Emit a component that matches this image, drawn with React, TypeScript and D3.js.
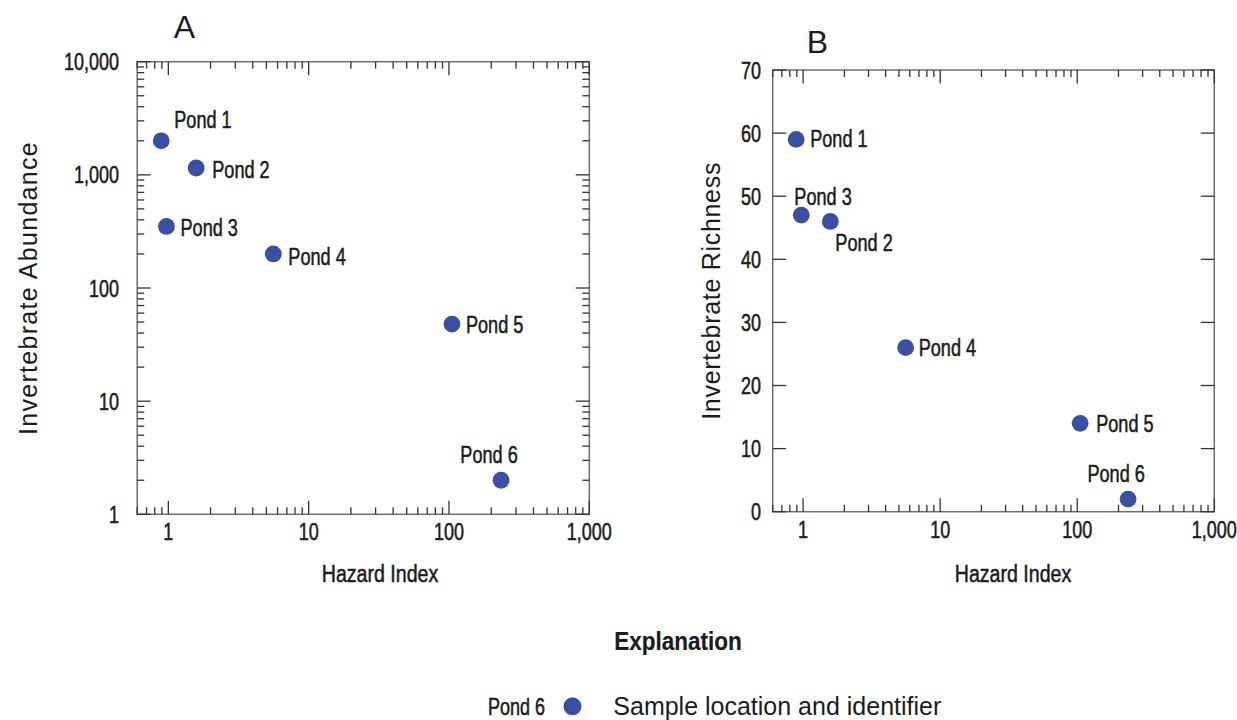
import React from "react";
import * as d3 from "d3";

// ---------- data ----------
const ponds = ["Pond 1", "Pond 2", "Pond 3", "Pond 4", "Pond 5", "Pond 6"];
const hazardIndex = [0.89, 1.58, 0.97, 5.6, 105, 235];
const abundance = [2000, 1150, 350, 200, 48, 2];
const richness = [59, 46, 47, 26, 14, 2];

const xTicks = [1, 10, 100, 1000];
const xTickLabels = ["1", "10", "100", "1,000"];
const abundanceTicks = [1, 10, 100, 1000, 10000];
const abundanceTickLabels = ["1", "10", "100", "1,000", "10,000"];
const richnessTicks = [0, 10, 20, 30, 40, 50, 60, 70];
const richnessTickLabels = ["0", "10", "20", "30", "40", "50", "60", "70"];

// ---------- layout / style ----------
const W = 1237;
const H = 720;
const FONT = "'Liberation Sans', Arial, sans-serif";
const COND = 0.75;
const TEXT = "#1c1c1c";
const DOT = "#3a4fa2";
const BOX = "#6e6e6e";
const TICK = "#333";

// label placement relative to each point: [anchor, dx, dy]
const labelPlaceA: [string, number, number][] = [
  ["start", 13, -13],
  ["start", 16, 10],
  ["start", 14, 10],
  ["start", 15, 11],
  ["start", 14, 9],
  ["middle", -12, -17],
];
const labelPlaceB: [string, number, number][] = [
  ["start", 14, 8],
  ["start", 5, 30],
  ["start", -7, -10],
  ["start", 13, 8],
  ["start", 16, 9],
  ["middle", -12, -17],
];

function CText({ x, y, anchor = "start", size = 24, children, weight = 400, sx = COND, sw = 0.55 }: any) {
  return (
    <g transform={`translate(${x},${y}) scale(${sx},1)`}>
      <text
        x={0}
        y={0}
        textAnchor={anchor}
        fontFamily={FONT}
        fontSize={size}
        fontWeight={weight}
        fill={TEXT}
        stroke={TEXT}
        strokeWidth={sw}
      >
        {children}
      </text>
    </g>
  );
}

function logMinor(lo: number, hi: number) {
  const out: number[] = [];
  for (let d = Math.pow(10, Math.floor(Math.log10(lo))); d < hi; d *= 10) {
    for (let k = 2; k <= 9; k++) {
      const v = k * d;
      if (v > lo && v < hi) out.push(v);
    }
  }
  return out;
}

function XLogAxis({ x, y0, y1 }: any) {
  const [lo, hi] = x.domain();
  const minor = logMinor(lo, hi);
  const ML = 13.5;
  const mL = 7;
  return (
    <g stroke={TICK} strokeWidth={1.3}>
      {xTicks.map((v) => (
        <g key={"M" + v}>
          <line x1={x(v)} x2={x(v)} y1={y0} y2={y0 - ML} />
          <line x1={x(v)} x2={x(v)} y1={y1} y2={y1 + ML} />
        </g>
      ))}
      {minor.map((v) => (
        <g key={"m" + v}>
          <line x1={x(v)} x2={x(v)} y1={y0} y2={y0 - mL} />
          <line x1={x(v)} x2={x(v)} y1={y1} y2={y1 + mL} />
        </g>
      ))}
    </g>
  );
}

function Panel({ x, y, yTicks, yTickLabels, yMinor, values, place, title, titlePos, yTitle, yTitleX, yTitleSpacing, labelRight, xTitleX }: any) {
  const [x0, x1] = x.range();
  const [y0, y1] = y.range();
  return (
    <g>
      <text x={titlePos[0]} y={titlePos[1]} textAnchor="middle" fontFamily={FONT} fontSize={32} fill={TEXT}>
        {title}
      </text>
      {/* frame */}
      <rect x={x0} y={y1} width={x1 - x0} height={y0 - y1} fill="none" stroke={BOX} strokeWidth={1.5} />
      <XLogAxis x={x} y0={y0} y1={y1} />
      {/* y ticks */}
      <g stroke={TICK} strokeWidth={1.3}>
        {yTicks.map((v: number) => (
          <g key={"y" + v}>
            <line x1={x0} x2={x0 + 13.5} y1={y(v)} y2={y(v)} />
            <line x1={x1} x2={x1 - 13.5} y1={y(v)} y2={y(v)} />
          </g>
        ))}
        {yMinor.map((v: number) => (
          <g key={"ym" + v}>
            <line x1={x0} x2={x0 + 7} y1={y(v)} y2={y(v)} />
            <line x1={x1} x2={x1 - 7} y1={y(v)} y2={y(v)} />
          </g>
        ))}
      </g>
      {/* x tick labels */}
      {xTicks.map((v, i) => (
        <CText key={"xl" + v} x={x(v)} y={y0 + 26} anchor="middle" size={24}>
          {xTickLabels[i]}
        </CText>
      ))}
      {/* y tick labels */}
      {yTicks.map((v: number, i: number) => (
        <CText key={"yl" + v} x={labelRight} y={y(v) + 8.5} anchor="end" size={24}>
          {yTickLabels[i]}
        </CText>
      ))}
      {/* axis titles */}
      <CText x={xTitleX} y={582} anchor="middle" size={24.5} sx={0.8}>
        Hazard Index
      </CText>
      <text
        transform={`translate(${yTitleX},${(y0 + y1) / 2}) rotate(-90)`}
        textAnchor="middle"
        fontFamily={FONT}
        fontSize={25}
        letterSpacing={yTitleSpacing}
        fill={TEXT}
      >
        {yTitle}
      </text>
      {/* points */}
      {values.map((v: number, i: number) => (
        <circle key={"p" + i} cx={x(hazardIndex[i])} cy={y(v)} r={8.4} fill={DOT} />
      ))}
      {values.map((v: number, i: number) => (
        <CText
          key={"pl" + i}
          x={x(hazardIndex[i]) + place[i][1]}
          y={y(v) + place[i][2]}
          anchor={place[i][0]}
          size={24.5}
          sx={0.74}
        >
          {ponds[i]}
        </CText>
      ))}
    </g>
  );
}

export default function App() {
  const xA = d3.scaleLog().domain([0.6, 1000]).range([137.2, 589.3]);
  const yA = d3.scaleLog().domain([1, 10000]).range([514.3, 61.7]);
  const xB = d3.scaleLog().domain([0.6, 1000]).range([772.7, 1214.3]);
  const yB = d3.scaleLinear().domain([0, 70]).range([511.7, 70]);

  return (
    <div style={{ position: "absolute", left: 0, top: 0 }}>
      <svg width={W} height={H} style={{ display: "block", background: "#fff" }}>
        <Panel
          x={xA}
          y={yA}
          yTicks={abundanceTicks}
          yTickLabels={abundanceTickLabels}
          yMinor={logMinor(1, 10000)}
          values={abundance}
          place={labelPlaceA}
          title="A"
          titlePos={[184.5, 38]}
          yTitle="Invertebrate Abundance"
          yTitleX={37}
          yTitleSpacing={1.3}
          labelRight={119}
          xTitleX={380}
        />
        <Panel
          x={xB}
          y={yB}
          yTicks={richnessTicks}
          yTickLabels={richnessTickLabels}
          yMinor={[]}
          values={richness}
          place={labelPlaceB}
          title="B"
          titlePos={[817.5, 53]}
          yTitle="Invertebrate Richness"
          yTitleX={720}
          yTitleSpacing={0.7}
          labelRight={761}
          xTitleX={1013}
        />
        {/* legend */}
        <CText x={678} y={650} anchor="middle" size={25} weight={700} sx={0.9} sw={0.2}>
          Explanation
        </CText>
        <CText x={545} y={715} anchor="end" size={24}>
          Pond 6
        </CText>
        <circle cx={572.5} cy={706.3} r={9} fill={DOT} />
        <text x={613.3} y={715} fontFamily={FONT} fontSize={25} fill={TEXT}>
          Sample location and identifier
        </text>
      </svg>
    </div>
  );
}
